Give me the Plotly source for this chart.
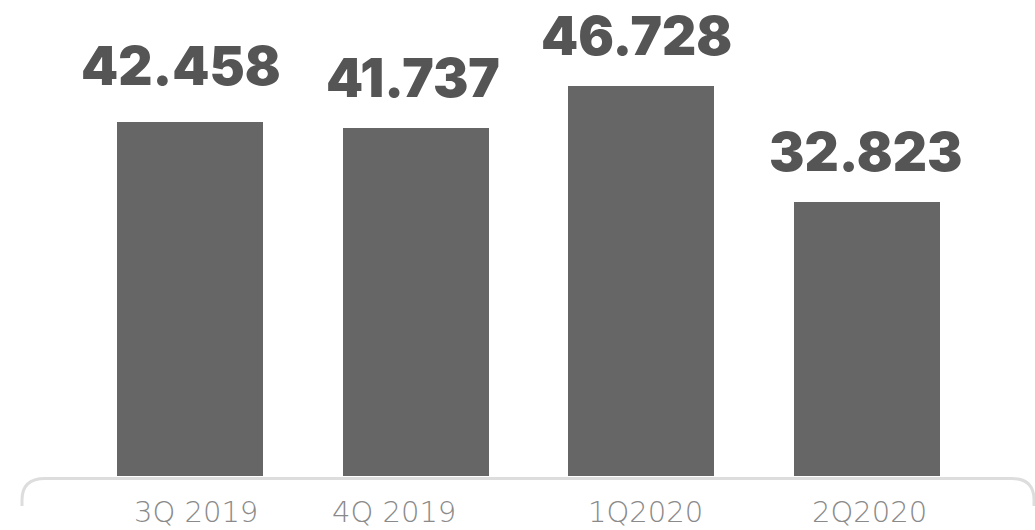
import plotly.graph_objects as go

categories = ["3Q 2019", "4Q 2019", "1Q2020", "2Q2020"]
values = [42.458, 41.737, 46.728, 32.823]
labels = ["42.458", "41.737", "46.728", "32.823"]

W, H = 1035, 530
plot_bottom_px = 476  # pixel of y=0
ymax = plot_bottom_px / 8.34

# style offsets (pixels) for text placement
value_xshift = [-9, -3, -5, -2]
cat_xshift = [6, -22, 4, 2]

fig = go.Figure()
fig.add_trace(go.Bar(
    x=list(range(len(categories))), y=values,
    marker=dict(color="#666666", line=dict(width=0)),
    width=0.647, hoverinfo="skip",
))

for i, (v, t) in enumerate(zip(values, labels)):
    fig.add_annotation(
        x=i, y=v, text=t, showarrow=False, xref="x", yref="y",
        yanchor="bottom", yshift=16 + (6 if i == 0 else 0), xshift=value_xshift[i],
        font=dict(family="Inter", size=53, color="#555555", weight=900),
    )

for i, c in enumerate(categories):
    fig.add_annotation(
        x=i, y=0, text=c, showarrow=False, xref="x", yref="y",
        yanchor="middle", yshift=-36, xshift=cat_xshift[i],
        font=dict(family="DejaVu Sans", size=29, color="#8a8a8a", weight=200),
    )

fig.update_xaxes(
    range=[-0.842, 3.744], showticklabels=False,
    showgrid=False, zeroline=False, showline=False, ticks="",
)
fig.update_yaxes(range=[0, ymax], visible=False, showgrid=False, zeroline=False)

# rounded bracket line under the bars (paper coords)
def py(p):
    return (plot_bottom_px - p) / plot_bottom_px

def px(p):
    return p / W

path = (f"M {px(22)},{py(506)} L {px(22)},{py(500)} "
        f"Q {px(22)},{py(478.5)} {px(45)},{py(478.5)} "
        f"L {px(1012)},{py(478.5)} "
        f"Q {px(1034)},{py(478.5)} {px(1034)},{py(500)} L {px(1034)},{py(506)}")
fig.add_shape(type="path", path=path, xref="paper", yref="paper",
              line=dict(color="#dddddd", width=3), layer="below")

fig.update_layout(
    width=W, height=H,
    margin=dict(l=0, r=0, t=0, b=H - plot_bottom_px),
    plot_bgcolor="white", paper_bgcolor="white",
    showlegend=False, bargap=0,
)

fig.write_html("out.html")
